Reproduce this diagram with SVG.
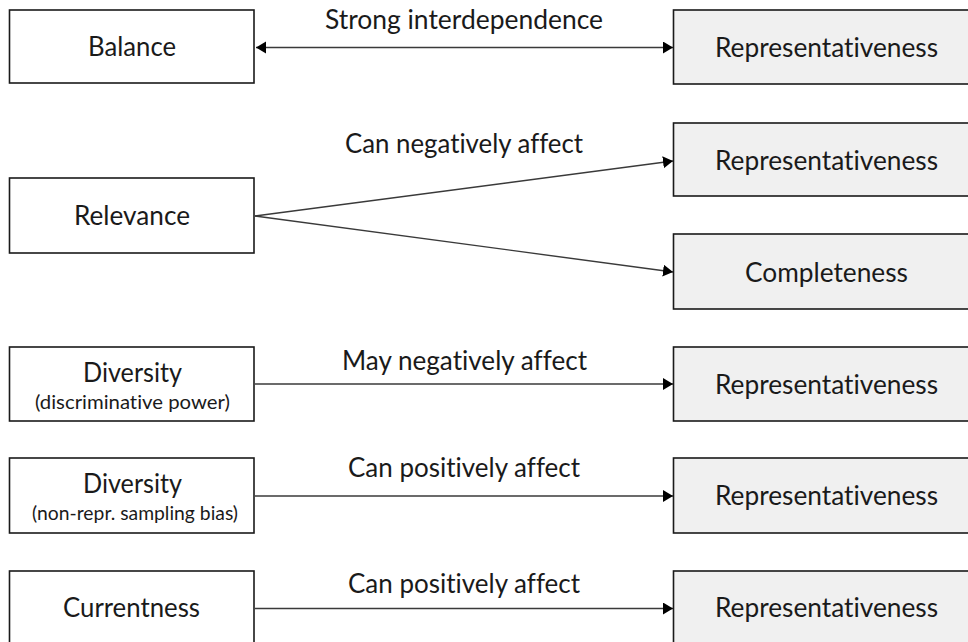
<svg xmlns="http://www.w3.org/2000/svg" width="968" height="642" viewBox="0 0 968 642">
  <style>
    .src { fill: #ffffff; stroke: #1a1a1a; stroke-width: 1.6; }
    .dst { fill: #f0f0f0; stroke: #1a1a1a; stroke-width: 1.6; }
    text { font-family: Lato, "Open Sans", sans-serif; fill: #1a1a1a; text-anchor: middle; font-variant-ligatures: none; font-feature-settings: "liga" 0, "clig" 0; }
    .lbl { font-size: 26px; }
    .sub { font-size: 19px; }
    .edge { stroke: #3a3a3a; stroke-width: 1.4; fill: none; }
  </style>
  <defs>
    <marker id="arrow" markerUnits="userSpaceOnUse" markerWidth="12" markerHeight="13" refX="10" refY="6" orient="auto-start-reverse">
      <path d="M0,0 L10,6 L0,12 z" fill="#000000"/>
    </marker>
  </defs>

  <rect width="968" height="642" fill="#ffffff"/>

  <!-- connectors -->
  <g id="connectors">
    <line class="edge" x1="256" y1="47.5" x2="673" y2="47.5" marker-start="url(#arrow)" marker-end="url(#arrow)"/>
    <text class="lbl" x="464" y="29" textLength="278" lengthAdjust="spacingAndGlyphs">Strong interdependence</text>

    <line class="edge" x1="255" y1="216" x2="673" y2="161" marker-end="url(#arrow)"/>
    <line class="edge" x1="255" y1="216" x2="673" y2="272" marker-end="url(#arrow)"/>
    <text class="lbl" x="464" y="153" textLength="238" lengthAdjust="spacingAndGlyphs">Can negatively affect</text>

    <line class="edge" x1="255" y1="384" x2="673" y2="384" marker-end="url(#arrow)"/>
    <text class="lbl" x="464.5" y="370" textLength="245" lengthAdjust="spacingAndGlyphs">May negatively affect</text>

    <line class="edge" x1="255" y1="496" x2="673" y2="496" marker-end="url(#arrow)"/>
    <text class="lbl" x="464" y="477" textLength="232" lengthAdjust="spacingAndGlyphs">Can positively affect</text>

    <line class="edge" x1="255" y1="608.5" x2="673" y2="608.5" marker-end="url(#arrow)"/>
    <text class="lbl" x="464" y="593" textLength="232" lengthAdjust="spacingAndGlyphs">Can positively affect</text>
  </g>

  <!-- source nodes -->
  <g id="balance">
    <rect class="src" x="9.5" y="10" width="244.5" height="73"/>
    <text class="lbl" x="132" y="56" textLength="88" lengthAdjust="spacingAndGlyphs">Balance</text>
  </g>
  <g id="relevance">
    <rect class="src" x="9.5" y="178" width="244.5" height="75"/>
    <text class="lbl" x="132" y="225" textLength="116" lengthAdjust="spacingAndGlyphs">Relevance</text>
  </g>
  <g id="diversity-discriminative">
    <rect class="src" x="9.5" y="347" width="244.5" height="74"/>
    <text class="lbl" x="132.5" y="382" textLength="99" lengthAdjust="spacingAndGlyphs">Diversity</text>
    <text class="sub" x="132.5" y="408.5" textLength="195" lengthAdjust="spacingAndGlyphs">(discriminative power)</text>
  </g>
  <g id="diversity-sampling">
    <rect class="src" x="9.5" y="458" width="244.5" height="75"/>
    <text class="lbl" x="132.5" y="493" textLength="99" lengthAdjust="spacingAndGlyphs">Diversity</text>
    <text class="sub" x="135" y="519.5" textLength="206" lengthAdjust="spacingAndGlyphs">(non-repr. sampling bias)</text>
  </g>
  <g id="currentness">
    <rect class="src" x="9.5" y="571" width="244.5" height="80"/>
    <text class="lbl" x="131.5" y="617" textLength="137" lengthAdjust="spacingAndGlyphs">Currentness</text>
  </g>

  <!-- target nodes -->
  <g id="representativeness-1">
    <rect class="dst" x="673.5" y="10" width="310" height="74"/>
    <text class="lbl" x="826.5" y="57" textLength="223" lengthAdjust="spacingAndGlyphs">Representativeness</text>
  </g>
  <g id="representativeness-2">
    <rect class="dst" x="673.5" y="123" width="310" height="73"/>
    <text class="lbl" x="826.5" y="170" textLength="223" lengthAdjust="spacingAndGlyphs">Representativeness</text>
  </g>
  <g id="completeness">
    <rect class="dst" x="673.5" y="234" width="310" height="75"/>
    <text class="lbl" x="826.5" y="282" textLength="163" lengthAdjust="spacingAndGlyphs">Completeness</text>
  </g>
  <g id="representativeness-3">
    <rect class="dst" x="673.5" y="347" width="310" height="74"/>
    <text class="lbl" x="826.5" y="394" textLength="223" lengthAdjust="spacingAndGlyphs">Representativeness</text>
  </g>
  <g id="representativeness-4">
    <rect class="dst" x="673.5" y="458" width="310" height="75"/>
    <text class="lbl" x="826.5" y="505" textLength="223" lengthAdjust="spacingAndGlyphs">Representativeness</text>
  </g>
  <g id="representativeness-5">
    <rect class="dst" x="673.5" y="571" width="310" height="80"/>
    <text class="lbl" x="826.5" y="617" textLength="223" lengthAdjust="spacingAndGlyphs">Representativeness</text>
  </g>
</svg>
